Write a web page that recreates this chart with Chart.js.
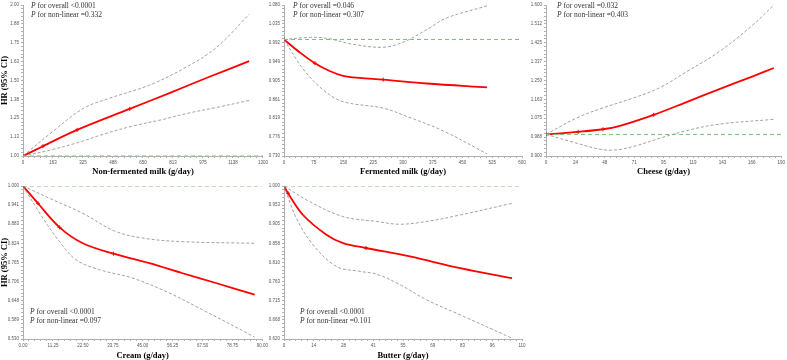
<!DOCTYPE html>
<html lang="en">
<head>
  <meta charset="UTF-8">
  <title>Dairy intake and HR</title>
  <script src="https://cdn.jsdelivr.net/npm/chart.js"></script>
  <style>
    body { margin: 0; background: #fff; }
    #wrap { position: relative; width: 787px; height: 360px; overflow: hidden; }
    canvas { position: absolute; }
  </style>
</head>
<body>
<div id="wrap">
  <canvas id="c1" width="270" height="178" style="left:0;top:0"></canvas>
  <canvas id="c2" width="270" height="178" style="left:260px;top:0"></canvas>
  <canvas id="c3" width="267" height="178" style="left:520px;top:0"></canvas>
  <canvas id="c4" width="270" height="185" style="left:0;top:175px"></canvas>
  <canvas id="c5" width="270" height="185" style="left:260px;top:175px"></canvas>
</div>
<script>
  // Non-fermented milk
  const nfEst   = [[0,1.00],[108,1.065],[293,1.173],[578,1.312],[800,1.42],[1000,1.52],[1225,1.628]];
  const nfUpper = [[0,1.00],[144,1.145],[325,1.314],[470,1.383],[686,1.47],[885,1.589],[1048,1.719],[1225,1.939]];
  const nfLower = [[0,1.00],[150,1.04],[300,1.09],[450,1.15],[600,1.20],[750,1.24],[900,1.285],[1050,1.322],[1225,1.368]];
  const nfMarks = [[0,1.00],[108,1.065],[293,1.173],[578,1.312]];
  const nfXLabels = ['0','163','325','488','650','813','975','1138','1300'];
  const nfYLabels = ['1.00','1.13','1.25','1.38','1.50','1.63','1.75','1.88','2.00'];

  // Fermented milk
  const fmEst   = [[0,1.00],[40,0.970],[78,0.945],[115,0.927],[149,0.916],[191,0.911],[250,0.907],[360,0.898],[512,0.889]];
  const fmUpper = [[0,1.00],[65,1.005],[107,1.003],[174,0.989],[250,0.982],[301,0.994],[360,1.023],[410,1.050],[512,1.078]];
  const fmLower = [[0,1.00],[48,0.932],[99,0.883],[149,0.856],[250,0.841],[309,0.822],[402,0.788],[512,0.735]];
  const fmMarks = [[0,1.00],[78,0.945],[250,0.907]];
  const fmXLabels = ['0','75','150','225','300','375','450','525','600'];
  const fmYLabels = ['0.730','0.776','0.819','0.861','0.905','0.949','0.992','1.035','1.080'];

  // Cheese
  const chEst   = [[0,1.00],[26,1.012],[46,1.024],[59,1.039],[87,1.091],[113,1.149],[139,1.208],[166,1.267],[184,1.308]];
  const chUpper = [[0,1.00],[25,1.077],[46,1.123],[70,1.168],[91,1.214],[113,1.289],[139,1.380],[166,1.502],[184,1.600]];
  const chLower = [[0,1.00],[22,0.964],[46,0.929],[59,0.930],[73,0.948],[94,0.986],[113,1.017],[139,1.047],[184,1.070]];
  const chMarks = [[0,1.00],[26,1.012],[46,1.024],[87,1.091]];
  const chXLabels = ['0','24','48','71','95','119','143','166','190'];
  const chYLabels = ['0.900','0.988','1.075','1.163','1.250','1.337','1.425','1.512','1.600'];

  // Cream
  const crEst   = [[0,1.00],[5.6,0.947],[13.75,0.873],[22.5,0.824],[34,0.792],[47.5,0.763],[60,0.732],[72.5,0.702],[87.1,0.666]];
  const crUpper = [[0,1.00],[10,0.962],[22.5,0.916],[34.4,0.862],[45,0.840],[60,0.829],[87.1,0.824]];
  const crLower = [[0,1.00],[7.5,0.901],[13.75,0.829],[20,0.773],[28.75,0.743],[41.25,0.717],[53.75,0.676],[66.25,0.625],[87.1,0.536]];
  const crMarks = [[0,1.00],[5.6,0.947],[13.75,0.873],[34,0.792]];
  const crXLabels = ['0.00','11.25','22.50','33.75','45.00','56.25','67.50','78.75','90.00'];
  const crYLabels = ['0.530','0.589','0.648','0.706','0.765','0.824','0.883','0.941','1.000'];

  // Butter
  const buEst   = [[0,1.00],[1.85,0.982],[8.8,0.928],[19.6,0.879],[27.3,0.858],[37.9,0.846],[58.2,0.825],[81.4,0.796],[105.4,0.771]];
  const buUpper = [[0,1.00],[11.9,0.961],[27.3,0.924],[42.8,0.912],[53.6,0.905],[66,0.912],[81.4,0.928],[105.4,0.957]];
  const buLower = [[0,1.00],[5.7,0.920],[13.4,0.854],[24.3,0.800],[35,0.788],[42.8,0.781],[53.6,0.755],[66,0.717],[81.4,0.680],[105.4,0.622]];
  const buMarks = [[0,1.00],[1.85,0.982],[37.9,0.846]];
  const buXLabels = ['0','14','28','41','55','69','83','96','110'];
  const buYLabels = ['0.620','0.668','0.715','0.763','0.810','0.858','0.905','0.953','1.000'];

  const pts = arr => arr.map(([x, y]) => ({ x, y }));

  // Texts: axis titles and P values
  const textPlugin = {
    id: 'texts',
    afterDraw(chart) {
      const o = chart.options.plugins.texts;
      const a = chart.chartArea;
      const ctx = chart.ctx;
      ctx.save();
      ctx.fillStyle = '#000';
      ctx.textBaseline = 'middle';
      ctx.textAlign = 'center';
      ctx.font = 'bold 8.5px "Liberation Serif"';
      ctx.fillText(o.xTitle, (a.left + a.right) / 2, a.bottom + o.xTitleOff);
      if (o.yTitle) {
        ctx.save();
        ctx.translate(5, (a.top + a.bottom) / 2);
        ctx.rotate(-Math.PI / 2);
        ctx.fillText(o.yTitle, 0, 0);
        ctx.restore();
      }
      ctx.textAlign = 'left';
      ctx.fillStyle = '#333';
      o.pText.forEach((line, i) => {
        const y = o.pPos[1] + i * 9;
        ctx.font = 'italic 7.5px "Liberation Serif"';
        ctx.fillText('P', o.pPos[0], y);
        const w = ctx.measureText('P').width;
        ctx.font = '7.5px "Liberation Serif"';
        ctx.fillText(line, o.pPos[0] + w, y);
      });
      ctx.restore();
    }
  };

  function axis(min, max, labels, isX, size) {
    const n = labels.length - 1;
    return {
      type: 'linear',
      min: min,
      max: max,
      afterBuildTicks: s => {
        const t = [];
        for (let i = 0; i <= n * 5; i++) t.push({ value: min + (max - min) * i / (n * 5) });
        s.ticks = t;
      },
      afterFit: s => { if (isX) s.height = size; else s.width = size; },
      grid: { drawOnChartArea: false, drawTicks: true, tickLength: 2, color: '#b0b0b0' },
      border: { display: true, color: '#b0b0b0' },
      ticks: {
        autoSkip: false,
        maxRotation: 0,
        padding: 2,
        color: '#555',
        font: { size: 4.5, family: 'Arial' },
        callback: (v, i) => i % 5 === 0 ? labels[i / 5] : ''
      }
    };
  }

  function makePanel(id, p) {
    const xMax = p.xMax;
    new Chart(document.getElementById(id), {
      type: 'line',
      data: {
        datasets: [
          { data: pts([[0, 1], [xMax, 1]]), borderColor: '#76c276', borderWidth: 1, borderDash: [4, 3], pointRadius: 0 },
          { data: pts(p.upper), borderColor: '#8a8a8a', borderWidth: 0.8, borderDash: [3, 2], pointRadius: 0, tension: 0.35 },
          { data: pts(p.lower), borderColor: '#8a8a8a', borderWidth: 0.8, borderDash: [3, 2], pointRadius: 0, tension: 0.35 },
          { data: pts(p.est), borderColor: '#ff0000', borderWidth: 1.8, pointRadius: 0, tension: 0.35 },
          { data: pts(p.marks), showLine: false, pointStyle: 'cross', pointRadius: 2, borderColor: '#e00000', borderWidth: 1 }
        ]
      },
      options: {
        responsive: false,
        animation: false,
        layout: { padding: p.pad },
        plugins: {
          legend: { display: false },
          tooltip: { enabled: false },
          texts: { xTitle: p.xTitle, yTitle: p.yTitle, xTitleOff: p.xTitleOff, pText: p.pText, pPos: p.pPos }
        },
        scales: {
          x: axis(0, xMax, p.xLabels, true, p.xh),
          y: axis(p.yMin, p.yMax, p.yLabels, false, p.yw)
        }
      },
      plugins: [textPlugin]
    });
  }

  makePanel('c1', {
    est: nfEst, upper: nfUpper, lower: nfLower, marks: nfMarks, xMax: 1300, yMin: 1.0, yMax: 2.0,
    xLabels: nfXLabels, yLabels: nfYLabels, xTitle: 'Non-fermented milk (g/day)', yTitle: 'HR (95% CI)',
    pText: [' for overall <0.0001', ' for non-linear =0.332'], pPos: [31, 6],
    pad: { left: 0, right: 7, top: 2, bottom: 0 }, yw: 23, xh: 22, xTitleOff: 16
  });
  makePanel('c2', {
    est: fmEst, upper: fmUpper, lower: fmLower, marks: fmMarks, xMax: 600, yMin: 0.730, yMax: 1.080,
    xLabels: fmXLabels, yLabels: fmYLabels, xTitle: 'Fermented milk (g/day)', yTitle: null,
    pText: [' for overall =0.046', ' for non-linear =0.307'], pPos: [33, 6],
    pad: { left: 0, right: 8, top: 2, bottom: 0 }, yw: 24, xh: 22, xTitleOff: 16
  });
  makePanel('c3', {
    est: chEst, upper: chUpper, lower: chLower, marks: chMarks, xMax: 190, yMin: 0.900, yMax: 1.600,
    xLabels: chXLabels, yLabels: chYLabels, xTitle: 'Cheese (g/day)', yTitle: null,
    pText: [' for overall =0.032', ' for non-linear =0.403'], pPos: [37, 6],
    pad: { left: 0, right: 4, top: 2, bottom: 0 }, yw: 26, xh: 22, xTitleOff: 16
  });
  makePanel('c4', {
    est: crEst, upper: crUpper, lower: crLower, marks: crMarks, xMax: 90, yMin: 0.530, yMax: 1.000,
    xLabels: crXLabels, yLabels: crYLabels, xTitle: 'Cream (g/day)', yTitle: 'HR (95% CI)',
    pText: [' for overall <0.0001', ' for non-linear =0.097'], pPos: [30, 137],
    pad: { left: 0, right: 7, top: 11, bottom: 0 }, yw: 23, xh: 21, xTitleOff: 17
  });
  makePanel('c5', {
    est: buEst, upper: buUpper, lower: buLower, marks: buMarks, xMax: 110, yMin: 0.620, yMax: 1.000,
    xLabels: buXLabels, yLabels: buYLabels, xTitle: 'Butter (g/day)', yTitle: null,
    pText: [' for overall <0.0001', ' for non-linear =0.101'], pPos: [40, 137],
    pad: { left: 0, right: 8, top: 11, bottom: 0 }, yw: 24, xh: 21, xTitleOff: 17
  });
</script>
</body>
</html>
